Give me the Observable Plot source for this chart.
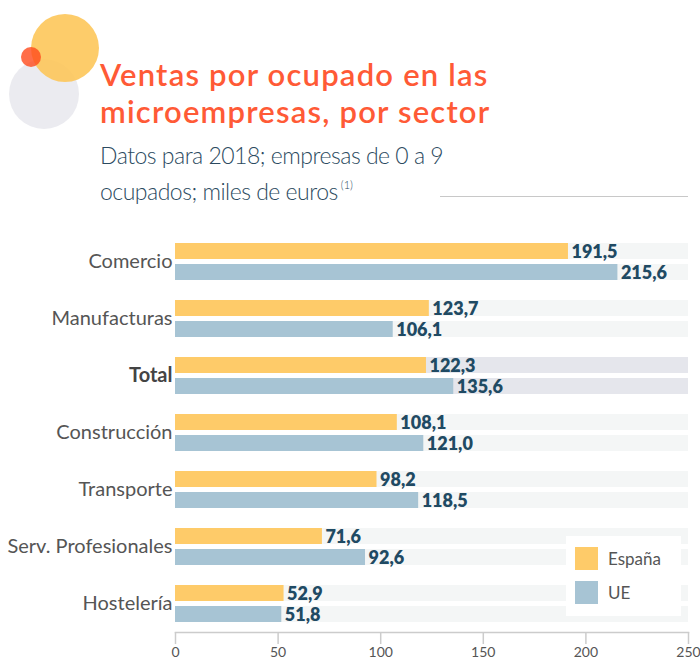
<!DOCTYPE html>
<html>
<head>
<meta charset="utf-8">
<script src="https://cdn.jsdelivr.net/npm/d3@7"></script>
<script src="https://cdn.jsdelivr.net/npm/@observablehq/plot@0.6"></script>
<style>
  html, body { margin: 0; padding: 0; background: #fff; }
  #wrap { position: relative; width: 700px; height: 662px; overflow: hidden; font-family: Lato, "Open Sans", sans-serif; }
  #deco { position: absolute; left: 0; top: 0; }
  #title { position: absolute; left: 100px; top: 56px; margin: 0; color: #ff5a36; font-size: 31px; font-weight: 600; line-height: 37px; letter-spacing: 1.2px; white-space: nowrap; }
  #subtitle { position: absolute; left: 100px; top: 141px; margin: 0; color: #2b4a60; font-size: 23px; font-weight: 300; line-height: 29px; letter-spacing: -0.5px; white-space: nowrap; }
  #subtitle sup { font-size: 11px; vertical-align: 11px; letter-spacing: 0; }
  #hr { position: absolute; left: 440px; top: 196px; width: 248px; height: 0; border-top: 1px solid #c8c8c8; }
  #chart { position: absolute; left: 0; top: 225px; }
  #legend { position: absolute; left: 566px; top: 536px; width: 115px; height: 80px; background: #fff; }
  .li { position: absolute; left: 9px; display: flex; align-items: center; font-size: 17px; color: #555; }
  .sw { width: 23px; height: 23px; margin-right: 10px; }
</style>
</head>
<body>
<div id="wrap">
  <svg id="deco" width="120" height="140">
    <circle cx="44" cy="94" r="35" fill="#ebebf0"></circle>
    <circle cx="65" cy="48" r="34" fill="#fdc65a" fill-opacity="0.9"></circle>
    <circle cx="31" cy="57" r="10" fill="#ff4a1c" fill-opacity="0.8"></circle>
  </svg>
  <div id="title">Ventas por ocupado en las<br>microempresas, por sector</div>
  <div id="subtitle">Datos para 2018; empresas de 0 a 9<br>ocupados; miles de euros<sup> (1)</sup></div>
  <div id="hr"></div>
  <div id="chart"></div>
  <div id="legend">
    <div class="li" style="top:11px"><div class="sw" style="background:#fecb69"></div>España</div>
    <div class="li" style="top:45px"><div class="sw" style="background:#a7c4d4"></div>UE</div>
  </div>
</div>
<script>
const categories = ["Comercio", "Manufacturas", "Total", "Construcción", "Transporte", "Serv. Profesionales", "Hostelería"];
const espana = [191.5, 123.7, 122.3, 108.1, 98.2, 71.6, 52.9];
const ue = [215.6, 106.1, 135.6, 121.0, 118.5, 92.6, 51.8];
const xTicks = [0, 50, 100, 150, 200, 250];
const xMax = 250;

const rows = categories.map((c, i) => ({cat: c, es: espana[i], ue: ue[i], max: xMax}));
const fmt = v => d3.format(".1f")(v).replace(".", ",");

const half = 21;   // inset to split each band into two bars
const lbl = 10.5;  // vertical shift of labels

const chart = Plot.plot({
  width: 700,
  height: 437,
  marginLeft: 175,
  marginRight: 12,
  marginTop: 7,
  marginBottom: 30,
  style: {fontFamily: "Lato, 'Open Sans', sans-serif", background: "transparent"},
  x: {domain: [0, xMax]},
  y: {domain: categories, paddingInner: 0.352, paddingOuter: 0.176, axis: null},
  marks: [
    // background tracks
    Plot.barX(rows, {y: "cat", x: "max", insetBottom: half, fill: d => d.cat === "Total" ? "#e5e6ec" : "#f4f6f6"}),
    Plot.barX(rows, {y: "cat", x: "max", insetTop: half, fill: d => d.cat === "Total" ? "#e5e6ec" : "#f4f6f6"}),
    // España and UE bars
    Plot.barX(rows, {y: "cat", x: "es", insetBottom: half, fill: "#fecb69"}),
    Plot.barX(rows, {y: "cat", x: "ue", insetTop: half, fill: "#a7c4d4"}),
    // value labels
    Plot.text(rows, {y: "cat", x: "es", text: d => fmt(d.es), dy: -lbl + 1, dx: 3, textAnchor: "start", fill: "#1f4a63", fontWeight: 800, fontSize: 18}),
    Plot.text(rows, {y: "cat", x: "ue", text: d => fmt(d.ue), dy: lbl + 1, dx: 3, textAnchor: "start", fill: "#1f4a63", fontWeight: 800, fontSize: 18}),
    // category labels
    Plot.text(rows.filter(d => d.cat !== "Total"), {y: "cat", text: "cat", frameAnchor: "left", dx: -3, textAnchor: "end", fill: "#555", fontSize: 20}),
    Plot.text(rows.filter(d => d.cat === "Total"), {y: "cat", text: "cat", frameAnchor: "left", dx: -3, textAnchor: "end", fill: "#444", fontSize: 20, fontWeight: 700}),
    // x axis
    Plot.frame({anchor: "bottom", stroke: "#cccccc", strokeWidth: 1.5}),
    Plot.axisX({ticks: xTicks, tickSize: 12, tickPadding: 3, stroke: "#cccccc", strokeWidth: 1.5, fill: "#555", fontSize: 14, label: null, tickFormat: d => String(d)})
  ]
});
document.getElementById("chart").appendChild(chart);
</script>
</body>
</html>
